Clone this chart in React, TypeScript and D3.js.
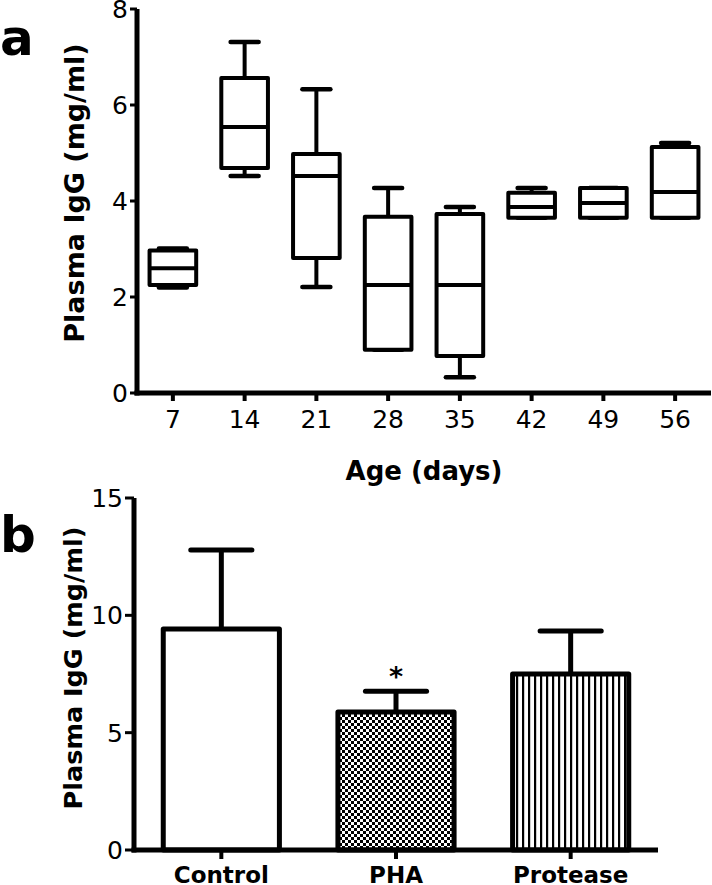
import React from "react";
import * as d3 from "d3";

// Panel a: box plots of plasma IgG by age
const days = ["7", "14", "21", "28", "35", "42", "49", "56"];
const whiskerMin = [2.2, 4.52, 2.21, 0.9, 0.33, 3.65, 3.65, 3.65];
const q1 = [2.25, 4.69, 2.81, 0.9, 0.77, 3.65, 3.65, 3.65];
const median = [2.6, 5.54, 4.52, 2.25, 2.25, 3.875, 3.96, 4.19];
const q3 = [2.97, 6.56, 4.98, 3.67, 3.73, 4.17, 4.27, 5.125];
const whiskerMax = [3.01, 7.31, 6.33, 4.27, 3.875, 4.27, 4.27, 5.21];
const yTicksA = [0, 2, 4, 6, 8];

// Panel b: bar chart with SEM
const groups = ["Control", "PHA", "Protease"];
const means = [9.42, 5.88, 7.5];
const errors = [3.36, 0.89, 1.83];
const significant = [false, true, false];
const yTicksB = [0, 5, 10, 15];

const FONT = "'DejaVu Sans', Verdana, sans-serif";

export default function App() {
  // ---- panel a scales
  const xA = d3.scaleBand<string>().domain(days).range([137, 711]).padding(0);
  const yA = d3.scaleLinear().domain([0, 8]).range([393, 9]);
  const bwA = xA.bandwidth();
  const boxW = bwA * 0.65;
  const capW = bwA * 0.39;

  // ---- panel b scales
  const xB = d3.scaleBand<string>().domain(groups).range([134, 658]).padding(0);
  const yB = d3.scaleLinear().domain([0, 15]).range([850, 498]);
  const barW = xB.bandwidth() * 0.665;
  const errCapW = xB.bandwidth() * 0.35;
  const fills = ["#fff", "url(#checker)", "url(#stripes)"];

  return (
    <svg
      width={712}
      height={885}
      style={{ position: "absolute", left: 0, top: 0, background: "#fff" }}
      fontFamily={FONT}
    >
      <defs>
        <pattern id="checker" patternUnits="userSpaceOnUse" width={6} height={6}>
          <rect width={6} height={6} fill="#fff" />
          <rect x={0} y={0} width={3} height={3} fill="#000" />
          <rect x={3} y={3} width={3} height={3} fill="#000" />
        </pattern>
        <pattern id="stripes" patternUnits="userSpaceOnUse" width={6} height={6}>
          <rect width={6} height={6} fill="#fff" />
          <rect x={0} y={0} width={2.2} height={6} fill="#000" />
        </pattern>
      </defs>

      {/* ================= Panel a ================= */}
      <text x={0} y={55} fontSize={50} fontWeight="bold">a</text>
      <text
        transform={`translate(84,${(yA(0) + yA(8)) / 2 - 8}) rotate(-90)`}
        textAnchor="middle"
        fontSize={27}
        fontWeight="bold"
      >
        Plasma IgG (mg/ml)
      </text>

      {/* boxes */}
      {days.map((d, i) => {
        const cx = xA(d)! + bwA / 2;
        return (
          <g key={d} stroke="#000" fill="none" strokeWidth={4} strokeLinejoin="round">
            <line x1={cx} x2={cx} y1={yA(whiskerMax[i])} y2={yA(q3[i])} />
            <line x1={cx} x2={cx} y1={yA(q1[i])} y2={yA(whiskerMin[i])} />
            <line
              x1={cx - capW / 2}
              x2={cx + capW / 2}
              y1={yA(whiskerMax[i])}
              y2={yA(whiskerMax[i])}
              strokeWidth={4.5}
              strokeLinecap="round"
            />
            <line
              x1={cx - capW / 2}
              x2={cx + capW / 2}
              y1={yA(whiskerMin[i])}
              y2={yA(whiskerMin[i])}
              strokeWidth={4.5}
              strokeLinecap="round"
            />
            <rect
              x={cx - boxW / 2}
              y={yA(q3[i])}
              width={boxW}
              height={yA(q1[i]) - yA(q3[i])}
              fill="#fff"
            />
            <line x1={cx - boxW / 2} x2={cx + boxW / 2} y1={yA(median[i])} y2={yA(median[i])} />
          </g>
        );
      })}

      {/* axes a */}
      <g stroke="#000">
        <line x1={137} x2={137} y1={yA(8)} y2={yA(0) + 2.5} strokeWidth={5} />
        <line x1={134.5} x2={711} y1={yA(0)} y2={yA(0)} strokeWidth={5} />
        {yTicksA.map((t) => (
          <line key={t} x1={130} x2={137} y1={yA(t)} y2={yA(t)} strokeWidth={3} />
        ))}
        {days.map((d) => (
          <line
            key={d}
            x1={xA(d)! + bwA / 2}
            x2={xA(d)! + bwA / 2}
            y1={yA(0)}
            y2={yA(0) + 8}
            strokeWidth={4}
          />
        ))}
      </g>
      {yTicksA.map((t) => (
        <text key={t} x={128} y={yA(t) + 9} textAnchor="end" fontSize={25}>
          {t}
        </text>
      ))}
      {days.map((d) => (
        <text key={d} x={xA(d)! + bwA / 2} y={428} textAnchor="middle" fontSize={25}>
          {d}
        </text>
      ))}
      <text x={(137 + 711) / 2} y={480} textAnchor="middle" fontSize={26} fontWeight="bold">
        Age (days)
      </text>

      {/* ================= Panel b ================= */}
      <text x={0} y={552} fontSize={50} fontWeight="bold">b</text>
      <text
        transform={`translate(82,${(yB(0) + yB(15)) / 2 - 6}) rotate(-90)`}
        textAnchor="middle"
        fontSize={25.5}
        fontWeight="bold"
      >
        Plasma IgG (mg/ml)
      </text>

      {groups.map((g, i) => {
        const cx = xB(g)! + xB.bandwidth() / 2;
        const top = yB(means[i]);
        const errTop = yB(means[i] + errors[i]);
        return (
          <g key={g}>
            <line x1={cx} x2={cx} y1={top} y2={errTop} stroke="#000" strokeWidth={5} />
            <line
              x1={cx - errCapW / 2}
              x2={cx + errCapW / 2}
              y1={errTop}
              y2={errTop}
              stroke="#000"
              strokeWidth={5}
              strokeLinecap="round"
            />
            <rect
              x={cx - barW / 2}
              y={top}
              width={barW}
              height={yB(0) - top}
              fill={fills[i]}
              stroke="#000"
              strokeWidth={5}
              strokeLinejoin="round"
            />
            {significant[i] && (
              <text x={cx} y={errTop - 5} textAnchor="middle" fontSize={27} fontWeight="bold">
                *
              </text>
            )}
          </g>
        );
      })}

      {/* axes b */}
      <g stroke="#000">
        <line x1={134} x2={134} y1={yB(15)} y2={yB(0) + 2.5} strokeWidth={5} />
        <line x1={131.5} x2={658} y1={yB(0)} y2={yB(0)} strokeWidth={5} />
        {yTicksB.map((t) => (
          <line key={t} x1={125} x2={134} y1={yB(t)} y2={yB(t)} strokeWidth={3} />
        ))}
        {groups.map((g) => (
          <line
            key={g}
            x1={xB(g)! + xB.bandwidth() / 2}
            x2={xB(g)! + xB.bandwidth() / 2}
            y1={yB(0)}
            y2={yB(0) + 9}
            strokeWidth={4}
          />
        ))}
      </g>
      {yTicksB.map((t) => (
        <text key={t} x={123} y={yB(t) + 9} textAnchor="end" fontSize={25}>
          {t}
        </text>
      ))}
      {groups.map((g) => (
        <text
          key={g}
          x={xB(g)! + xB.bandwidth() / 2}
          y={883}
          textAnchor="middle"
          fontSize={23}
          fontWeight="bold"
        >
          {g}
        </text>
      ))}
    </svg>
  );
}
